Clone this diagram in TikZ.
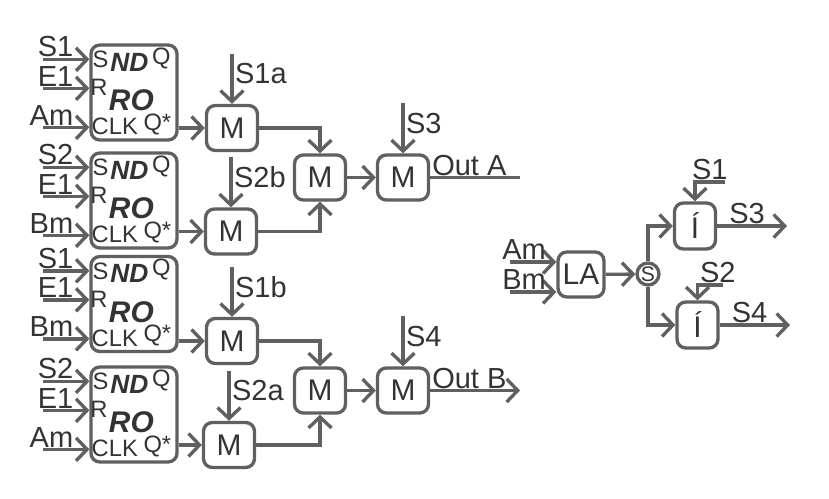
\documentclass[tikz,border=0pt]{standalone}
\usepackage{fontspec}
\setmainfont{Liberation Sans}
\usetikzlibrary{arrows.meta,calc}
\definecolor{cLine}{HTML}{606060}
\definecolor{cText}{HTML}{333333}
\tikzset{
  blk/.style={draw=cLine, line width=1.9pt, rounded corners=5pt, inner sep=0pt, text=cText},
  ffbox/.style={blk, minimum width=1.72cm, minimum height=1.9cm},
  mbox/.style={blk, minimum width=1.02cm, minimum height=0.9cm, font=\fontsize{17}{18}\selectfont},
  ibox/.style={blk, minimum width=0.82cm, minimum height=0.92cm, font=\fontsize{17}{18}\selectfont},
  sel/.style={circle, draw=cLine, line width=1.9pt, minimum size=0.44cm, inner sep=0pt,
    text=cText, font=\fontsize{12}{13}\selectfont},
  lbl/.style={inner sep=1pt, text=cText, font=\fontsize{16.5}{17}\selectfont},
  pinlbl/.style={inner sep=0pt, text=cText, font=\fontsize{13.5}{14}\selectfont},
  ndlbl/.style={inner sep=0pt, text=cText, font=\fontsize{15}{16}\selectfont\bfseries\itshape},
  rolbl/.style={inner sep=0pt, text=cText, font=\fontsize{17}{18}\selectfont\bfseries\itshape},
  wire/.style={draw=cLine, line width=1.9pt},
  sig/.style={wire, -{Straight Barb[length=2.2mm, width=4.6mm]}},
}

\begin{document}
\begin{tikzpicture}[x=0.02cm, y=-0.02cm]
  \path[use as bounding box] (0,0) rectangle (829,498);
  % flip-flops and their inputs
  \foreach \i/\y/\s/\c in {1/92.5/S1/Am, 2/200.5/S2/Bm, 3/304/S1/Bm, 4/414.5/S2/Am}{
    \node[ffbox] (ff\i) at (134,\y) {};
    \node[pinlbl, anchor=west] (ps\i) at ($(ff\i.north west)+(3,16)$) {S};
    \node[pinlbl] (pq\i) at ($(ff\i.north west)+(72,15)$) {Q};
    \node[pinlbl] (pr\i) at ($(ff\i.north west)+(9.5,44)$) {R};
    \node[pinlbl, anchor=west] (pc\i) at ($(ff\i.north west)+(2,83)$) {CLK};
    \node[pinlbl] (pn\i) at ($(ff\i.north west)+(68,81)$) {Q*};
    \node[ndlbl] (nd\i) at ($(ff\i.north west)+(40,19)$) {ND};
    \node[rolbl] (ro\i) at ($(ff\i.north west)+(42,57)$) {RO};
    \coordinate (is\i) at ($(ff\i.north west)+(-46,16)$);
    \coordinate (ir\i) at ($(ff\i.north west)+(-46,45)$);
    \coordinate (ic\i) at ($(ff\i.north west)+(-46,84)$);
    \draw[sig] (is\i) -- (is\i -| ff\i.west);
    \draw[sig] (ir\i) -- (ir\i -| ff\i.west);
    \draw[sig] (ic\i) -- (ic\i -| ff\i.west);
    \node[lbl, anchor=south east] (ls\i) at ($(is\i)+(32,0)$) {\s};
    \node[lbl, anchor=south east] (lr\i) at ($(ir\i)+(32,0)$) {E1};
    \node[lbl, anchor=south east] (lc\i) at ($(ic\i)+(32,0)$) {\c};
  }
  % muxes
  \node[mbox] (ma1) at (232,128) {M};
  \node[mbox] (mb1) at (231,231.5) {M};
  \node[mbox] (mc1) at (320,177.5) {M};
  \node[mbox] (md1) at (403,177.5) {M};
  \node[mbox] (ma2) at (232,341) {M};
  \node[mbox] (mb2) at (229,445) {M};
  \node[mbox] (mc2) at (320,390.5) {M};
  \node[mbox] (md2) at (403,390.5) {M};
  \draw[sig] (ff1.east |- ma1.west) -- (ma1.west);
  \draw[sig] (ff2.east |- mb1.west) -- (mb1.west);
  \draw[sig] (ff3.east |- ma2.west) -- (ma2.west);
  \draw[sig] (ff4.east |- mb2.west) -- (mb2.west);
  \draw[sig] (ma1.east) -| (mc1.north);
  \draw[sig] (mb1.east) -| (mc1.south);
  \draw[sig] (ma2.east) -| (mc2.north);
  \draw[sig] (mb2.east) -| (mc2.south);
  \draw[sig] (mc1) -- (md1);
  \draw[sig] (mc2) -- (md2);
  % select lines
  \foreach \m/\t in {ma1/S1a, mb1/S2b, md1/S3, ma2/S1b, mb2/S2a, md2/S4}{
    \coordinate (t\m) at ($(\m.north)+(0,-50)$);
    \draw[sig] (t\m) -- (\m.north);
    \node[lbl, anchor=west] (l\m) at ($(t\m)+(1,20)$) {\t};
  }
  % outputs
  \coordinate (outa) at (520,177.5);
  \coordinate (outb) at (520,390.5);
  \draw[wire] (md1.east) -- (outa);
  \draw[sig] (md2.east) -- (outb);
  \node[lbl, anchor=south west] (louta) at (md1.east) {Out A};
  \node[lbl, anchor=south west] (loutb) at (md2.east) {Out B};
  % right part
  \node[mbox, minimum width=0.92cm] (la) at (581,274.5) {LA};
  \node[sel] (sw) at (648,274) {S};
  \node[ibox] (ib1) at (695,226) {Í};
  \node[ibox] (ib2) at (697.5,325) {Í};
  \coordinate (am) at (510,262);
  \coordinate (bm) at (510,292);
  \draw[sig] (am) -- (am -| la.west);
  \draw[sig] (bm) -- (bm -| la.west);
  \node[lbl, anchor=south east] (lam) at ($(am)+(38,0)$) {Am};
  \node[lbl, anchor=south east] (lbm) at ($(bm)+(38,0)$) {Bm};
  \draw[sig] (la) -- (sw);
  \draw[sig] (sw.north) |- (ib1.west);
  \draw[sig] (sw.south) |- (ib2.west);
  \coordinate (ts1) at (725,182);
  \coordinate (ts2) at (723,285);
  \draw[sig] (ts1) -| (ib1.north);
  \draw[sig] (ts2) -| (ib2.north);
  \node[lbl, anchor=south west] (lts1) at (690,182) {S1};
  \node[lbl, anchor=south west] (lts2) at (698,285) {S2};
  \coordinate (o3) at (787,226);
  \coordinate (o4) at (790,325);
  \draw[sig] (ib1.east) -- (o3);
  \draw[sig] (ib2.east) -- (o4);
  \node[lbl, anchor=south west] (lo3) at ($(ib1.east)+(10,0)$) {S3};
  \node[lbl, anchor=south west] (lo4) at ($(ib2.east)+(10,0)$) {S4};
\end{tikzpicture}
\end{document}
